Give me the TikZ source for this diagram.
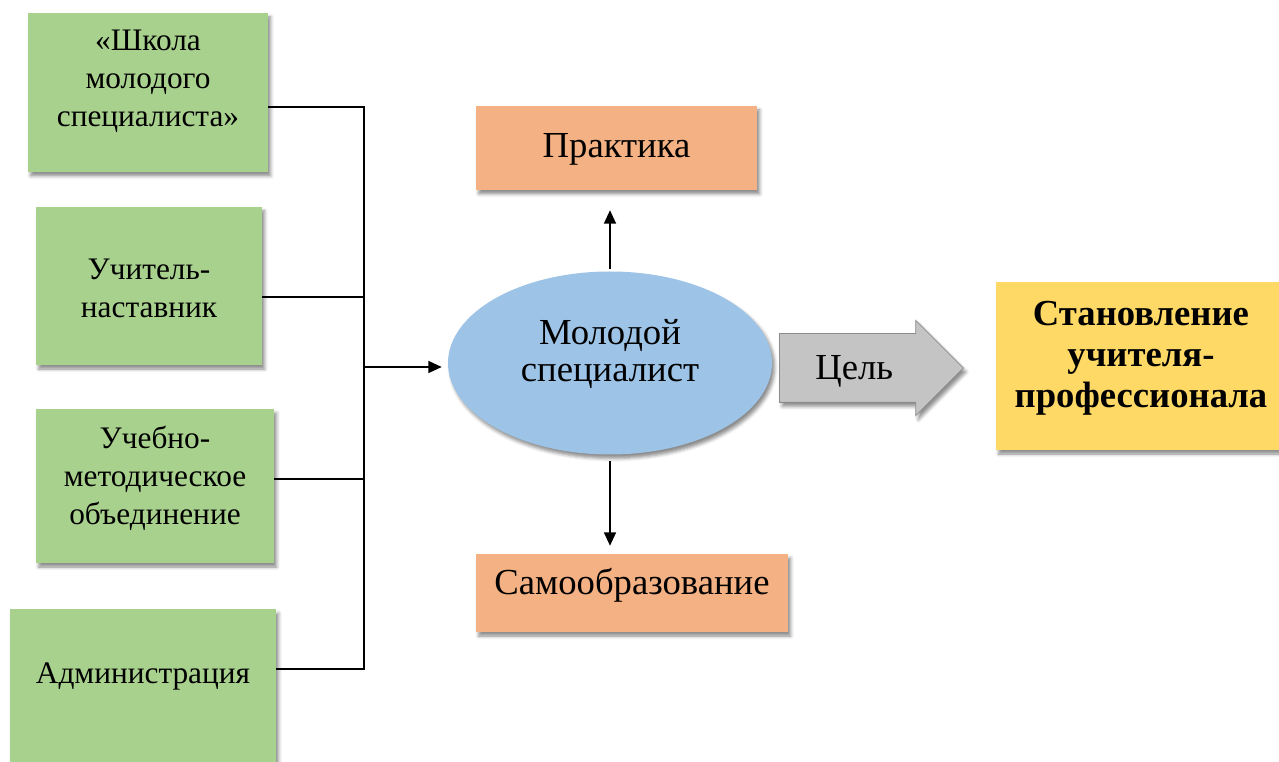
\documentclass[tikz,border=0pt]{standalone}
\usepackage{fontspec}
\setmainfont{Liberation Serif}
\usetikzlibrary{arrows.meta}
\usetikzlibrary{shapes.geometric, shapes.arrows}
\usetikzlibrary{shadows.blur}

\definecolor{zelen}{HTML}{A9D18E}
\definecolor{persik}{HTML}{F4B183}
\definecolor{goluboy}{HTML}{9DC3E6}
\definecolor{zholtyy}{HTML}{FFD966}
\definecolor{seryy}{HTML}{C4C4C4}

\tikzset{
  ten/.style={blur shadow={shadow xshift=2pt, shadow yshift=-3pt, shadow blur radius=2.5pt, shadow opacity=45}},
  txt/.style={font=\fontsize{23.5}{28.8}\selectfont, align=center, inner sep=0pt},
  bigtxt/.style={font=\fontsize{27.5}{27.75}\selectfont, align=center, inner sep=0pt},
  zbox/.style={rectangle, fill=zelen, ten, txt},
  obox/.style={rectangle, fill=persik, ten, bigtxt},
  ybox/.style={rectangle, fill=zholtyy, ten, bigtxt, font=\fontsize{27.5}{30.8}\selectfont\bfseries},
  lin/.style={line width=1pt},
  strelka/.style={line width=1pt, -{Triangle[length=10pt, width=9pt]}}
}

\begin{document}
\begin{tikzpicture}[x=0.75pt, y=-0.75pt]
    \useasboundingbox (0,0) rectangle (1279,762);

    \node[zbox, minimum width=180pt, minimum height=119.25pt, text height=60pt, text depth=8.25pt] (shk) at (148,92.5) {«Школа\\молодого\\специалиста»};
    \node[zbox, minimum width=169.5pt, minimum height=118.5pt, text height=54pt, text depth=6pt] (nast) at (149,286) {Учитель-\\наставник};
    \node[zbox, minimum width=178.5pt, minimum height=115.5pt, text height=65pt, text depth=6.5pt] (umo) at (155,486) {Учебно-\\методическое\\объединение};
    \node[zbox, minimum width=199.5pt, text height=55.5pt, text depth=80pt, anchor=north] (adm) at (143,609) {Администрация};

    \node[ellipse, fill=goluboy, ten, bigtxt, minimum width=243pt, minimum height=137.25pt, text height=35pt, text depth=6.5pt] (mol) at (610,363) {Молодой\\специалист};
    \node[obox, minimum width=210.75pt, minimum height=63pt, text height=20pt, text depth=5pt] (prak) at (616.5,148) {Практика};
    \node[obox, minimum width=234pt, minimum height=58.5pt, text height=12pt, text depth=9pt] (samo) at (632,593) {Самообразование};

    \node[single arrow, fill=seryy, draw=black!45, line width=0.6pt, ten, bigtxt, single arrow head extend=10pt, minimum height=138pt, text height=21pt, text depth=3pt, inner ysep=13.5pt, inner xsep=6pt, anchor=tail] (tsel) at (779,368) {Цель};
    \node[ybox, minimum width=217.5pt, minimum height=126pt, text height=70pt, text depth=7pt] (stan) at (1141,366) {Становление\\учителя-\\профессионала};

    \coordinate (b1) at (364,107);
    \coordinate (b2) at (364,297);
    \coordinate (b3) at (364,479);
    \coordinate (b4) at (364,669);
    \coordinate (bus) at (364,367);

    \draw[lin] (shk.east |- b1) -- (b1) -- (b4) -- (adm.east |- b4);
    \draw[lin] (nast.east |- b2) -- (b2);
    \draw[lin] (umo.east |- b3) -- (b3);
    \draw[strelka, shorten >=4.5pt] (bus) -- (mol.west |- bus);
    \draw[strelka, shorten <=2pt, shorten >=15pt] (mol.north) -- (mol.north |- prak.south);
    \draw[strelka, shorten <=4.5pt, shorten >=6pt] (mol.south) -- (mol.south |- samo.north);
\end{tikzpicture}
\end{document}
